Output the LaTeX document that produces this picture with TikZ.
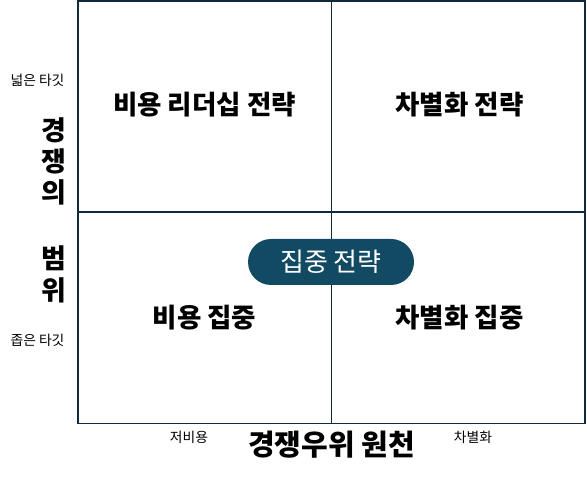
\documentclass[tikz,border=0pt]{standalone}
\usepackage{fontspec}
\setmainfont{Noto Sans CJK KR}
\definecolor{gridline}{HTML}{0F2A3A}
\definecolor{pillfill}{HTML}{124A63}
\tikzset{
  quad/.style={font=\fontsize{26.5}{30}\selectfont\bfseries, text=black},
  small/.style={font=\fontsize{13.8}{16}\selectfont, text=black},
  axisv/.style={font=\fontsize{27}{31}\selectfont\bfseries, text=black, align=center},
  axish/.style={font=\fontsize{29}{33}\selectfont\bfseries, text=black},
  pill/.style={fill=pillfill, rounded corners=23pt, minimum width=166pt, minimum height=46pt, text=white, font=\fontsize{26}{30}\selectfont, inner sep=0pt},
  gl/.style={draw=gridline, line width=1.6pt}
}
\begin{document}
\begin{tikzpicture}[x=1pt,y=-1pt]
\useasboundingbox (0,0) rectangle (587,478);
\coordinate (tl) at (78,0.8);
\coordinate (br) at (585,423.5);
\coordinate (mt) at (331.5,0.8);
\coordinate (mb) at (331.5,423.5);
\coordinate (ml) at (78,212);
\coordinate (mr) at (585,212);
\draw[gl] (tl) rectangle (br);
\draw[gl] (mt) -- (mb);
\draw[gl] (ml) -- (mr);
\node[quad] (q1) at (204.5,105) {비용 리더십 전략};
\node[quad] (q2) at (459.5,105) {차별화 전략};
\node[quad] (q3) at (204.5,318) {비용 집중};
\node[quad] (q4) at (459.5,318) {차별화 집중};
\node[pill] (focus) at (331,262) {집중 전략};
\node[small] (wide) at (37.5,80) {넓은 타깃};
\node[small] (narrow) at (37.5,340) {좁은 타깃};
\node[small] (low) at (189,437) {저비용};
\node[small] (diff) at (473,437) {차별화};
\node[axish] (src) at (331.5,445) {경쟁우위 원천};
\node[axisv] (c1) at (54,130) {경};
\node[axisv] (c2) at (54,161) {쟁};
\node[axisv] (c3) at (54,192) {의};
\node[axisv] (c4) at (54,258) {범};
\node[axisv] (c5) at (54,290) {위};
\end{tikzpicture}
\end{document}
